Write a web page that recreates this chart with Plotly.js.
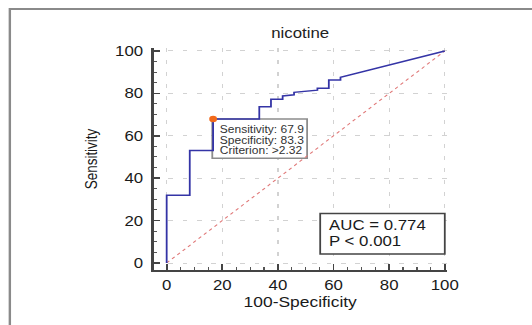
<!DOCTYPE html>
<html>
<head>
<meta charset="utf-8">
<script src="https://cdn.plot.ly/plotly-3.0.1.min.js"></script>
<style>
html,body{margin:0;padding:0;background:#fff;overflow:hidden;}
#wrap{width:443px;height:325px;transform:scaleX(1.2009);transform-origin:0 0;}
#chart{width:443px;height:325px;}
</style>
</head>
<body>
<div id="wrap"><div id="chart"></div></div>
<script>
// ROC curve (100-Specificity vs Sensitivity)
const fpr  = [0, 0, 8.3, 8.3, 16.7, 16.7, 33.3, 33.3, 37.5, 37.5, 41.7, 41.7, 45.8, 45.8, 54.2, 54.2, 58.3, 58.3, 62.5, 62.5, 100];
const sens = [0, 32.0, 32.0, 53.0, 53.0, 67.9, 67.9, 73.7, 73.7, 77.2, 77.2, 78.8, 79.3, 80.5, 81.5, 82.4, 82.4, 86.3, 86.3, 87.6, 100];
const refX = [0, 100];
const refY = [0, 100];
const cutX = [16.7];
const cutY = [67.9];
const chartTitle = "nicotine";
const xTitle = "100-Specificity";
const yTitle = "Sensitivity";
const cutLines = ["Sensitivity: 67.9", "Specificity: 83.3", "Criterion: >2.32"];
const aucLines = ["AUC = 0.774", "P < 0.001"];
const tickVals = [0, 20, 40, 60, 80, 100];

const font = "Liberation Sans, Arial, sans-serif";
function axis(extra) {
  return Object.assign({
    showline: true, linecolor: '#444', linewidth: 2,
    ticks: 'inside', ticklen: 6, tickwidth: 1.5, tickcolor: '#444',
    tickvals: tickVals,
    minor: {ticks: 'inside', dtick: 5, tick0: 0, ticklen: 3, tickwidth: 1, tickcolor: '#555', showgrid: false},
    showgrid: true, gridcolor: '#d2d2d2', gridwidth: 1, griddash: '4px,8px',
    zeroline: false,
    tickfont: {family: font, size: 14, color: '#1a1a1a'},
    fixedrange: true
  }, extra);
}

const traces = [
  {x: refX, y: refY, mode: 'lines', line: {color: '#e07878', width: 1, dash: 'dot'}, hoverinfo: 'skip'},
  {x: fpr, y: sens, mode: 'lines', line: {color: '#3434a6', width: 1.5}, hoverinfo: 'skip'},
  {x: cutX, y: cutY, mode: 'markers', marker: {color: '#f26a1b', size: 6.5}, hoverinfo: 'skip'}
];

// criterion box text lines (data-space anchor positions of the label block)
const cutTextX = 18.2;
const cutTextY = [63.0, 57.9, 52.9];
const aucTextX = 57.6;
const aucTextY = [17.7, 10.4];

const annotations = [];
cutLines.forEach((t, i) => annotations.push({
  x: cutTextX, y: cutTextY[i], xref: 'x', yref: 'y', xanchor: 'left', yanchor: 'middle',
  showarrow: false, text: t, font: {family: font, size: 10, color: '#333'}
}));
aucLines.forEach((t, i) => annotations.push({
  x: aucTextX, y: aucTextY[i], xref: 'x', yref: 'y', xanchor: 'left', yanchor: 'middle',
  showarrow: false, text: t, font: {family: font, size: 14, color: '#1a1a1a'}
}));

const layout = {
  width: 443, height: 325,
  margin: {l: 127.5, r: 70.5, t: 48, b: 55},
  paper_bgcolor: '#fff', plot_bgcolor: '#fff',
  showlegend: false,
  font: {family: font, color: '#222'},
  title: {text: chartTitle, font: {family: font, size: 14, color: '#222'}, x: 0.5, xref: 'paper', xanchor: 'center', y: 1 - 33/325, yref: 'container', yanchor: 'middle'},
  xaxis: axis({
    range: [-4.66, 100.7],
    ticklabelstandoff: 1,
    title: {text: xTitle, font: {family: font, size: 14.5, color: '#1a1a1a'}, standoff: 5}
  }),
  yaxis: axis({
    range: [-3.3, 101.4],
    ticklen: 5,
    ticklabelstandoff: 4,
    title: {text: yTitle, font: {family: font, size: 13.5, color: '#1a1a1a'}, standoff: 11}
  }),
  annotations: annotations,
  shapes: [
    {type: 'rect', xref: 'paper', yref: 'paper', x0: -0.491, x1: 1.5, y0: -0.4, y1: 1.176,
     line: {color: '#8a8a8a', width: 2}, fillcolor: 'rgba(0,0,0,0)', layer: 'below'},
    {type: 'rect', xref: 'x', yref: 'y', x0: 16.4, x1: 50.5, y0: 49.4, y1: 67.9,
     line: {color: '#8c8c8c', width: 1.5}, fillcolor: '#fff', layer: 'between'},
    {type: 'rect', xref: 'x', yref: 'y', x0: 55.2, x1: 100, y0: 4.2, y1: 23.4,
     line: {color: '#444', width: 1.5}, fillcolor: '#fff', layer: 'between'}
  ]
};

Plotly.newPlot('chart', traces, layout, {staticPlot: true, displayModeBar: false});
</script>
</body>
</html>
